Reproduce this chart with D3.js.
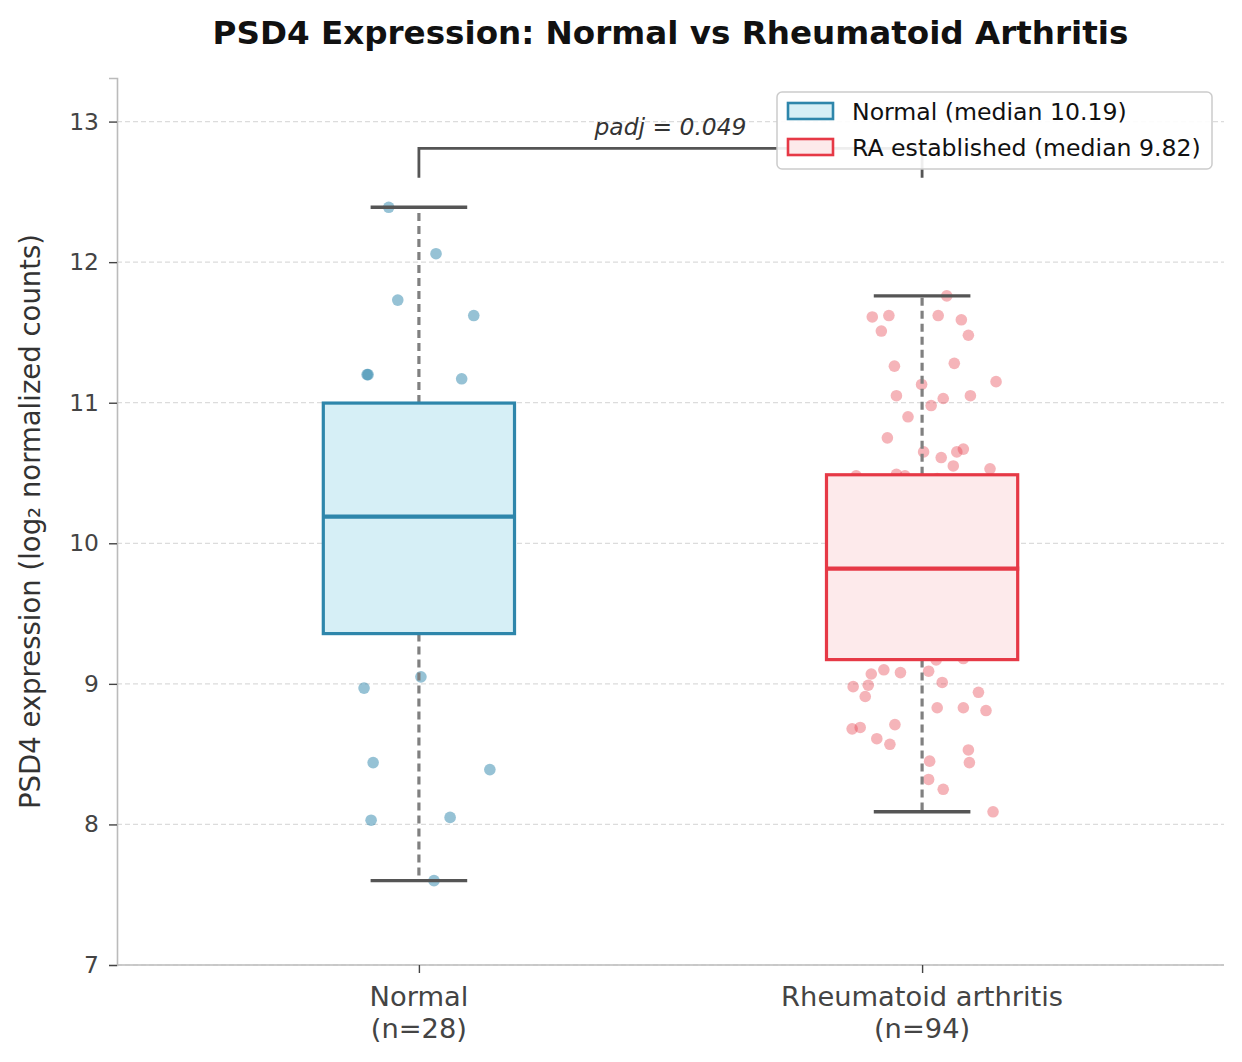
<!DOCTYPE html>
<html>
<head>
<meta charset="utf-8">
<script src="https://cdn.jsdelivr.net/npm/d3@7"></script>
<style>
  body { margin: 0; background: #fff; }
  svg { font-family: "DejaVu Sans", sans-serif; display: block; }
</style>
</head>
<body>
<script>
// ----- data -----
const groups = ["Normal", "Rheumatoid arthritis"];
const groupCounts = ["(n=28)", "(n=94)"];
const legendNames = ["Normal", "RA established"];

// Normal samples (log2 normalized counts) and their horizontal jitter
const normalValues = [12.39, 12.06, 11.73, 11.62, 11.20, 11.20, 11.17, 9.05, 8.97, 8.44, 8.39, 8.03, 8.05, 7.60,
  9.46, 9.62, 9.78, 9.90, 10.02, 10.10, 10.16, 10.22, 10.35, 10.50, 10.62, 10.74, 10.85, 10.94];
const normalJitter = [-0.060, 0.034, -0.042, 0.109, -0.103, -0.101, 0.085, 0.004, -0.109, -0.091, 0.141, -0.095, 0.062, 0.030,
  0.07, -0.12, 0.03, 0.10, -0.05, -0.09, 0.12, 0.01, -0.13, 0.06, -0.03, 0.09, -0.07, 0.13];

// RA samples
const raValues = [11.76, 11.61, 11.62, 11.51, 11.62, 11.59, 11.48, 11.26, 11.28, 11.15, 11.13, 11.05, 11.03, 11.05,
  10.98, 10.90, 10.75, 10.65, 10.61, 10.65, 10.67, 10.55, 10.53, 10.48, 10.49, 10.48,
  9.17, 9.18, 9.07, 9.10, 9.08, 9.09, 9.01, 8.98, 8.99, 8.91, 8.94, 8.83, 8.83, 8.81, 8.68, 8.69, 8.71,
  8.61, 8.57, 8.53, 8.45, 8.44, 8.32, 8.25, 8.09,
  9.21, 9.24, 9.27, 9.31, 9.33, 9.36, 9.40, 9.43, 9.44, 9.48, 9.52, 9.55, 9.57, 9.61, 9.63, 9.67, 9.70,
  9.72, 9.75, 9.78, 9.80, 9.81, 9.83, 9.86, 9.89, 9.93, 9.95, 9.99, 10.03, 10.06, 10.08, 10.12, 10.15,
  10.19, 10.22, 10.24, 10.28, 10.31, 10.34, 10.37, 10.40, 10.43, 10.46];
const raJitter = [0.049, -0.099, -0.066, -0.081, 0.032, 0.078, 0.092, -0.055, 0.064, 0.147, -0.001, -0.051, 0.042, 0.096,
  0.018, -0.028, -0.069, 0.003, 0.038, 0.069, 0.082, 0.062, 0.135, -0.131, -0.051, -0.034,
  0.028, 0.082, -0.101, -0.076, -0.043, 0.013, 0.040, -0.137, -0.107, -0.113, 0.112, 0.030, 0.082, 0.127, -0.139, -0.123, -0.054,
  -0.090, -0.064, 0.092, 0.015, 0.094, 0.013, 0.042, 0.141,
  0.05, -0.11, 0.13, -0.02, 0.08, -0.07, 0.11, -0.13, 0.02, 0.06, -0.09, 0.12, -0.04, 0.09, -0.12, 0.01, 0.07,
  -0.06, 0.14, -0.10, 0.03, -0.01, 0.10, -0.08, 0.04, -0.14, 0.12, -0.03, 0.06, -0.11, 0.09, 0.00,
  -0.05, 0.13, -0.09, 0.02, 0.08, -0.12, 0.05, -0.07, 0.11, -0.02, 0.03];

const yTicks = [7, 8, 9, 10, 11, 12, 13];
const pLabel = "padj = 0.049";
const bracketTop = 12.81, bracketLeftEnd = 12.60, bracketRightEnd = 12.60;

// colours
const edgeColors = ["#2E86AB", "#E63946"];
const fillColors = ["#d6eff6", "#fdeaeb"];
const pointAlpha = [0.5, 0.38];

// ----- layout -----
const W = 1242, H = 1062;
const margin = {left: 117, right: 18, top: 78, bottom: 97};

const svg = d3.select("body").append("svg")
  .attr("width", W).attr("height", H);

const x = d3.scaleLinear().domain([-0.6, 1.6]).range([margin.left, W - margin.right]);
const y = d3.scaleLinear().domain([7, 13.31]).range([H - margin.bottom, margin.top]);

// grid
svg.append("g").selectAll("line")
  .data(yTicks)
  .enter().append("line")
  .attr("x1", x.range()[0]).attr("x2", x.range()[1])
  .attr("y1", d => y(d)).attr("y2", d => y(d))
  .attr("stroke", "#dcdcdc").attr("stroke-width", 1.2)
  .attr("stroke-dasharray", "5,3");

// jittered points (drawn under the boxes)
const groupData = [
  normalValues.map((v, i) => ({v: v, j: normalJitter[i]})),
  raValues.map((v, i) => ({v: v, j: raJitter[i]}))
];

groupData.forEach(function(pts, g) {
  svg.append("g").selectAll("circle")
    .data(pts)
    .enter().append("circle")
    .attr("cx", d => x(g + d.j))
    .attr("cy", d => y(d.v))
    .attr("r", 5.8)
    .attr("fill", edgeColors[g])
    .attr("fill-opacity", pointAlpha[g]);
});

// box statistics
const stats = groupData.map(function(pts) {
  const vals = pts.map(d => d.v).sort(d3.ascending);
  const q1 = d3.quantile(vals, 0.25), med = d3.quantile(vals, 0.5), q3 = d3.quantile(vals, 0.75);
  const iqr = q3 - q1;
  const lo = d3.min(vals.filter(v => v >= q1 - 1.5 * iqr));
  const hi = d3.max(vals.filter(v => v <= q3 + 1.5 * iqr));
  return {q1: q1, med: med, q3: q3, lo: lo, hi: hi};
});

const boxHalf = 0.19, capHalf = 0.096;

stats.forEach(function(s, g) {
  const bg = svg.append("g");
  // whiskers
  [[s.q3, s.hi], [s.q1, s.lo]].forEach(function(seg) {
    bg.append("line")
      .attr("x1", x(g)).attr("x2", x(g))
      .attr("y1", y(seg[0])).attr("y2", y(seg[1]))
      .attr("stroke", "#808080").attr("stroke-width", 3.2)
      .attr("stroke-dasharray", "8,5");
  });
  // caps
  [s.hi, s.lo].forEach(function(v) {
    bg.append("line")
      .attr("x1", x(g - capHalf)).attr("x2", x(g + capHalf))
      .attr("y1", y(v)).attr("y2", y(v))
      .attr("stroke", "#555").attr("stroke-width", 3.4);
  });
  // box
  bg.append("rect")
    .attr("x", x(g - boxHalf)).attr("width", x(g + boxHalf) - x(g - boxHalf))
    .attr("y", y(s.q3)).attr("height", y(s.q1) - y(s.q3))
    .attr("fill", fillColors[g])
    .attr("stroke", edgeColors[g]).attr("stroke-width", 3.2);
  // median
  bg.append("line")
    .attr("x1", x(g - boxHalf)).attr("x2", x(g + boxHalf) + 1.5)
    .attr("y1", y(s.med)).attr("y2", y(s.med))
    .attr("stroke", edgeColors[g]).attr("stroke-width", 4.4);
});

// significance bracket
svg.append("path")
  .attr("d", "M" + x(0) + "," + y(bracketLeftEnd) + "V" + y(bracketTop) + "H" + x(1) + "V" + y(bracketRightEnd))
  .attr("fill", "none").attr("stroke", "#555").attr("stroke-width", 2.8);

svg.append("text")
  .attr("x", x(0.5)).attr("y", y(bracketTop) - 13)
  .attr("text-anchor", "middle")
  .attr("font-style", "italic")
  .attr("font-size", 23.4)
  .attr("fill", "#333")
  .text(pLabel);

// axes
const yAxis = svg.append("g")
  .attr("transform", "translate(" + margin.left + ",0)")
  .call(d3.axisLeft(y).tickValues(yTicks).tickFormat(d3.format("d")).tickSize(8).tickPadding(10));
yAxis.select(".domain").attr("stroke", "#bbb").attr("stroke-width", 1.6);
yAxis.selectAll(".tick line").attr("stroke", "#444").attr("stroke-width", 1.4);
yAxis.selectAll(".tick text").attr("font-size", 23.4).attr("fill", "#444")
  .attr("font-family", "DejaVu Sans");

const xAxis = svg.append("g")
  .attr("transform", "translate(0," + (H - margin.bottom) + ")")
  .call(d3.axisBottom(x).tickValues([0, 1]).tickSize(8).tickFormat(""));
xAxis.select(".domain").attr("stroke", "#bbb").attr("stroke-width", 1.6)
  .attr("d", "M" + x.range()[0] + ",0H" + x.range()[1]);
xAxis.selectAll(".tick line").attr("stroke", "#444").attr("stroke-width", 1.4);
xAxis.selectAll(".tick text").remove();

groups.forEach(function(name, i) {
  const t = svg.append("text")
    .attr("text-anchor", "middle")
    .attr("font-size", 27.3)
    .attr("fill", "#444");
  t.append("tspan").attr("x", x(i)).attr("y", 1006).text(name);
  t.append("tspan").attr("x", x(i)).attr("y", 1038).text(groupCounts[i]);
});

// y label
svg.append("text")
  .attr("transform", "translate(40," + ((margin.top + H - margin.bottom) / 2) + ") rotate(-90)")
  .attr("text-anchor", "middle")
  .attr("font-size", 27.5)
  .attr("fill", "#333")
  .text("PSD4 expression (log\u2082 normalized counts)");

// title
svg.append("text")
  .attr("x", x(0.5)).attr("y", 44)
  .attr("text-anchor", "middle")
  .attr("font-size", 32.6)
  .attr("font-weight", "bold")
  .attr("fill", "#111")
  .text("PSD4 Expression: Normal vs Rheumatoid Arthritis");

// legend
const legend = svg.append("g").attr("transform", "translate(777,92)");
legend.append("rect")
  .attr("width", 435).attr("height", 77).attr("rx", 5)
  .attr("fill", "#fff").attr("fill-opacity", 0.9)
  .attr("stroke", "#ccc").attr("stroke-width", 1.5);

legendNames.forEach(function(name, i) {
  const row = legend.append("g").attr("transform", "translate(0," + (19 + i * 36) + ")");
  row.append("rect")
    .attr("x", 11).attr("y", -8).attr("width", 45).attr("height", 16)
    .attr("fill", fillColors[i]).attr("stroke", edgeColors[i]).attr("stroke-width", 2.6);
  row.append("text")
    .attr("x", 75).attr("y", 8.5)
    .attr("font-size", 23.6).attr("fill", "#111")
    .text(name + " (median " + d3.format(".2f")(stats[i].med) + ")");
});
</script>
</body>
</html>
